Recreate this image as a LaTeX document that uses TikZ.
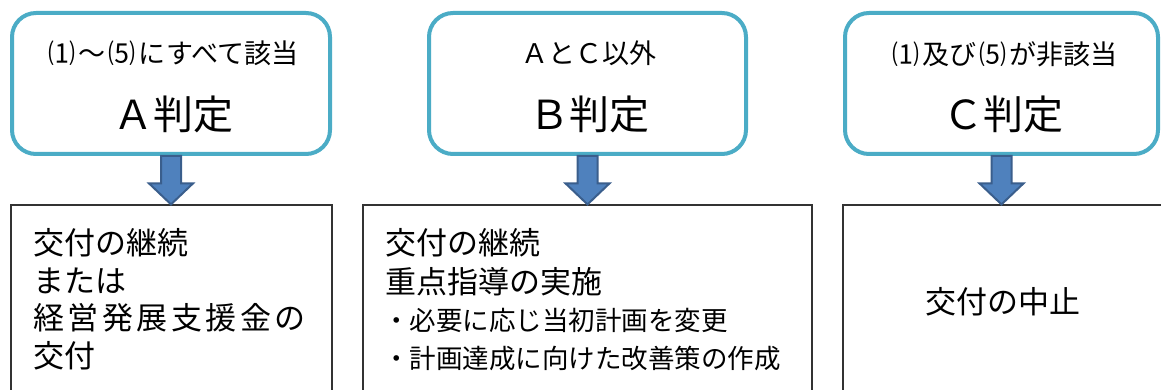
\documentclass[tikz,border=0pt]{standalone}
\usepackage{fontspec}
\newfontfamily\jp{Noto Sans CJK JP}
\usetikzlibrary{calc}
\definecolor{jteal}{HTML}{4BACC6}
\definecolor{arrowfill}{HTML}{4F81BD}
\definecolor{arrowline}{HTML}{3A5E8C}
\newcommand\pn[1]{\hspace{3pt}#1\hspace{3pt}}
\begin{document}
\begin{tikzpicture}[x=1pt,y=-1pt,font=\jp,
  topbox/.style={draw=jteal,line width=4pt,rounded corners=24pt,minimum height=141pt,inner sep=0pt,fill=white},
  botbox/.style={draw=black!80,line width=1.2pt,inner sep=0pt,fill=white},
  txt/.style={inner sep=0pt,anchor=west},
  ctxt/.style={inner sep=0pt,anchor=center},
  headfont/.style={font=\jp\fontsize{27}{27}\selectfont},
  titlefont/.style={font=\jp\fontsize{40}{40}\selectfont},
  bodyfont/.style={font=\jp\fontsize{31}{31}\selectfont},
  smallfont/.style={font=\jp\fontsize{26.5}{26.5}\selectfont},
  blockarrow/.style={fill=arrowfill,draw=arrowline,line width=2pt}]
\useasboundingbox (0,0) rectangle (1161,390);
\clip (0,0) rectangle (1161,390);
% top boxes
\node[topbox,minimum width=318pt] (ta) at (171,83.5) {};
\node[topbox,minimum width=317pt] (tb) at (587.5,83.5) {};
\node[topbox,minimum width=313pt] (tc) at (1001.5,83.5) {};
% bottom boxes
\node[botbox,minimum width=321pt,minimum height=235pt] (ba) at (171.5,322.5) {};
\node[botbox,minimum width=449pt,minimum height=235pt] (bb) at (587.5,322.5) {};
\node[botbox,minimum width=357pt,minimum height=235pt] (bc) at (1021.5,322.5) {};
% arrows
\foreach \t/\b in {ta/ba,tb/bb,tc/bc}{
  \draw[blockarrow] let \p1=(\t.south), \p2=(\b.north) in
    (\x1-10pt,\y1) -- (\x1+10pt,\y1) -- (\x1+10pt,\y2+21pt) -- (\x1+22pt,\y2+21pt)
    -- (\x1,\y2) -- (\x1-22pt,\y2+21pt) -- (\x1-10pt,\y2+21pt) -- cycle;
}
% top texts
\node[ctxt,headfont] (ta1) at (172,53) {\pn{⑴}～\pn{⑸}にすべて該当};
\node[ctxt,titlefont] (ta2) at (173,114) {Ａ判定};
\node[ctxt,headfont] (tb1) at (589,53) {ＡとＣ以外};
\node[ctxt,titlefont] (tb2) at (589,114) {Ｂ判定};
\node[ctxt,headfont] (tc1) at (1003,54) {\pn{⑴}及び\pn{⑸}が非該当};
\node[ctxt,titlefont] (tc2) at (1003,114) {Ｃ判定};
% bottom A
\node[txt,bodyfont] (a1) at (33,243) {交付の継続};
\node[txt,bodyfont] (a2) at (33,281) {または};
\node[txt,bodyfont] (a3) at (33,318) {経\hspace{3.5pt}営\hspace{3.5pt}発\hspace{3.5pt}展\hspace{3.5pt}支\hspace{3.5pt}援\hspace{3.5pt}金\hspace{3.5pt}の};
\node[txt,bodyfont] (a4) at (33,356) {交付};
% bottom B
\node[txt,bodyfont] (b1) at (385,243) {交付の継続};
\node[txt,bodyfont] (b2) at (385,282) {重点指導の実施};
\node[txt,smallfont] (b3) at (383,320) {・必要に応じ当初計画を変更};
\node[txt,smallfont] (b4) at (383,358) {・計画達成に向けた改善策の作成};
% bottom C
\node[ctxt,bodyfont] (c1) at (1003,302) {交付の中止};
\end{tikzpicture}
\end{document}
